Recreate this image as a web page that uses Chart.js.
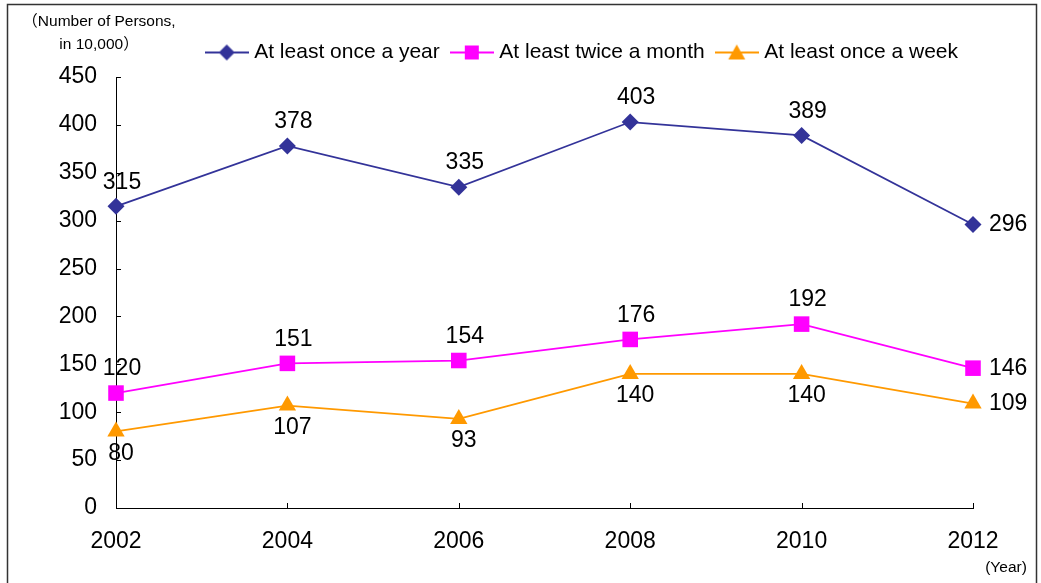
<!DOCTYPE html>
<html><head><meta charset="utf-8">
<script src="https://cdn.jsdelivr.net/npm/chart.js@4.4.0/dist/chart.umd.min.js"></script>
<style>html,body{margin:0;padding:0;background:#fff;overflow:hidden}#wrap{width:1041px;height:583px;position:relative;background:#fff}</style>
</head><body><div id="wrap"><canvas id="c" width="1041" height="583"></canvas></div>
<script>
const years = ['2002', '2004', '2006', '2008', '2010', '2012'];
const onceYear = [315, 378, 335, 403, 389, 296];
const twiceMonth = [120, 151, 154, 176, 192, 146];
const onceWeek = [80, 107, 93, 140, 140, 109];
const seriesNames = ['At least once a year', 'At least twice a month', 'At least once a week'];
const yAxisTitle = ['（Number of Persons,', 'in 10,000）'];
const xAxisTitle = '(Year)';
const labelPlacement = [
  ['above', 'above', 'above', 'above', 'above', 'right'],
  ['above', 'above', 'above', 'above', 'above', 'right'],
  ['below', 'below', 'below', 'below', 'below', 'right']
];

const FONT = '"Liberation Sans", Arial, "Noto Sans CJK JP", sans-serif';
const colors = ['#333399', '#FF00FF', '#FF9900'];
const styles = ['rectRot', 'rect', 'triangle'];
const radii = [8.5, 11, 10];

function legendImg(i) {
  const c = document.createElement('canvas');
  c.width = 44; c.height = 20;
  const g = c.getContext('2d');
  g.strokeStyle = colors[i]; g.lineWidth = 2;
  g.beginPath(); g.moveTo(0, 10); g.lineTo(44, 10); g.stroke();
  g.fillStyle = colors[i];
  g.beginPath();
  if (i === 0) { g.moveTo(22, 2); g.lineTo(30, 10); g.lineTo(22, 18); g.lineTo(14, 10); }
  else if (i === 1) { g.rect(15, 3, 14, 14); }
  else { g.moveTo(22, 2); g.lineTo(30.5, 17); g.lineTo(13.5, 17); }
  g.closePath(); g.fill();
  return c;
}
const legendImgs = [0, 1, 2].map(legendImg);

const legendPad = {
  id: 'legendPad',
  beforeLayout(chart) {
    const lg = chart.legend;
    if (lg && !lg._patched) {
      const f = lg.fit;
      lg.fit = function () { f.call(this); this.height += 4; };
      lg._patched = true;
    }
  }
};

const extras = {
  id: 'extras',
  afterDatasetsDraw(chart) {
    const ctx = chart.ctx;
    const xs = chart.scales.x, ys = chart.scales.y;
    ctx.save();
    // inward ticks
    ctx.strokeStyle = '#000'; ctx.lineWidth = 1;
    ys.ticks.forEach(t => {
      if (t.value === 0) return;
      const y = Math.round(ys.getPixelForValue(t.value)) + 0.5;
      ctx.beginPath(); ctx.moveTo(xs.left, y); ctx.lineTo(xs.left + 5, y); ctx.stroke();
    });
    years.forEach((_, i) => {
      if (i === 0) return;
      const x = Math.round(xs.getPixelForValue(i)) + 0.5;
      ctx.beginPath(); ctx.moveTo(x, ys.bottom); ctx.lineTo(x, ys.bottom - 5); ctx.stroke();
    });
    // data labels
    ctx.fillStyle = '#000';
    ctx.font = '23px ' + FONT;
    chart.data.datasets.forEach((ds, di) => {
      const meta = chart.getDatasetMeta(di);
      meta.data.forEach((pt, j) => {
        const pos = labelPlacement[di][j];
        const txt = String(ds.data[j]);
        if (pos === 'right') {
          ctx.textAlign = 'left'; ctx.textBaseline = 'middle';
          ctx.fillText(txt, pt.x + 16, pt.y);
        } else if (pos === 'above') {
          ctx.textAlign = 'center'; ctx.textBaseline = 'middle';
          ctx.fillText(txt, pt.x + 6, pt.y - 24);
        } else {
          ctx.textAlign = 'center'; ctx.textBaseline = 'middle';
          ctx.fillText(txt, pt.x + 5, pt.y + 22);
        }
      });
    });
    // axis titles
    ctx.font = '15.5px ' + FONT;
    ctx.textAlign = 'center'; ctx.textBaseline = 'middle';
    ctx.fillText(yAxisTitle[0], 99, 22);
    ctx.fillText(yAxisTitle[1], 99, 45);
    ctx.fillText(xAxisTitle, 1006, 568);
    // frame
    ctx.strokeStyle = '#333'; ctx.lineWidth = 1.5;
    ctx.strokeRect(7.5, 4.5, 1029, 700);
    ctx.restore();
  }
};

const mkDs = (i, data) => ({
  label: seriesNames[i],
  data: data,
  borderColor: colors[i],
  backgroundColor: colors[i],
  borderWidth: 1.75,
  pointStyle: styles[i],
  pointRadius: radii[i],
  pointHoverRadius: radii[i],
  pointBackgroundColor: colors[i],
  pointBorderColor: colors[i],
  pointBorderWidth: 0,
  tension: 0,
  clip: false
});

new Chart(document.getElementById('c'), {
  type: 'line',
  data: {
    labels: years,
    datasets: [mkDs(0, onceYear), mkDs(1, twiceMonth), mkDs(2, onceWeek)]
  },
  options: {
    responsive: false,
    animation: false,
    layout: { padding: { top: 27, left: 0, right: 68, bottom: 0 } },
    plugins: {
      tooltip: { enabled: false },
      legend: {
        position: 'top',
        align: 'end',
        labels: {
          usePointStyle: true,
          pointStyleWidth: 34,
          padding: 15,
          color: '#000',
          font: { family: FONT, size: 21 },
          generateLabels(chart) {
            const items = Chart.defaults.plugins.legend.labels.generateLabels(chart);
            items.forEach((it, i) => { it.pointStyle = legendImgs[i]; });
            return items;
          }
        }
      }
    },
    scales: {
      x: {
        type: 'category',
        offset: false,
        grid: { display: false, drawTicks: false },
        border: { display: true, color: '#000', width: 1 },
        ticks: { color: '#000', font: { family: FONT, size: 23 }, padding: 20, maxRotation: 0, autoSkip: false },
        afterFit(s) { s.height = 75; }
      },
      y: {
        min: 0, max: 450,
        grid: { display: false, drawTicks: false },
        border: { display: true, color: '#000', width: 1 },
        ticks: { stepSize: 50, color: '#000', font: { family: FONT, size: 23 }, padding: 19 },
        afterFit(s) { s.width = 116; }
      }
    }
  },
  plugins: [legendPad, extras]
});
</script></body></html>
